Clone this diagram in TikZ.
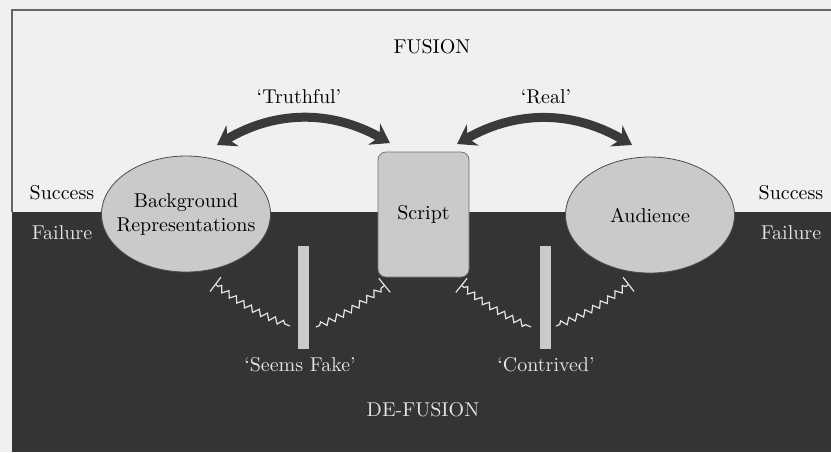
\documentclass[tikz,border=0pt]{standalone}
\usepackage{tikz}
\usetikzlibrary{positioning, arrows.meta, shapes.geometric, decorations.pathmorphing}
\definecolor{pagegray}{RGB}{240,240,240}
\definecolor{darkzone}{RGB}{52,52,52}
\definecolor{bubblegray}{RGB}{202,202,202}
\definecolor{arrowgray}{RGB}{58,58,58}
\definecolor{paletext}{RGB}{228,228,228}

\begin{document}
\begin{tikzpicture}[x=0.5pt, y=-0.5pt, >=Stealth,
    bubble/.style={ellipse, draw=black!70, fill=bubblegray, inner xsep=-14pt, inner ysep=0pt,
      minimum width=84.5pt, minimum height=58pt, align=center},
    scriptbox/.style={rectangle, rounded corners=4pt, draw=black!55, fill=bubblegray,
      minimum width=45.5pt, minimum height=62.5pt},
    bar/.style={fill=bubblegray, minimum width=5.5pt, minimum height=51.5pt, inner sep=0pt},
    bigarrow/.style={{Stealth[length=9pt, width=12pt]}-{Stealth[length=9pt, width=12pt]},
      arrowgray, line width=4.5pt},
    jag/.style={paletext, line width=0.6pt, decorate,
      decoration={zigzag, segment length=4.5pt, amplitude=1.5pt, pre length=2pt, post length=1pt}},
    pale/.style={text=paletext}]
  % page, frame and the dark lower half
  \useasboundingbox[fill=pagegray] (0,0) rectangle (831,452);
  \fill[darkzone] (12,212) rectangle (831,452);
  \draw[black!60, line width=0.6pt] (12,212) -- (12,10) -- (831,10);

  % the three elements
  \node[bubble] (bg) at (186,214) {Background\\Representations};
  \node[scriptbox] (script) at (423.5,214.5) {Script};
  \node[bubble] (aud) at (650,215) {Audience};

  % labels
  \node (fusion) at (432,47) {FUSION};
  \node (truth) at (299,97) {`Truthful'};
  \node (real) at (546,97) {`Real'};
  \node (succL) at (62,193) {Success};
  \node (succR) at (791,193) {Success};
  \node[pale] (failL) at (62,233) {Failure};
  \node[pale] (failR) at (791,233) {Failure};
  \node[pale] (fake) at (300,365) {`Seems Fake'};
  \node[pale] (contr) at (546,365) {`Contrived'};
  \node[pale] (defusion) at (423,410) {DE-FUSION};

  % barriers
  \node[bar] (barL) at (303.5,297.5) {};
  \node[bar] (barR) at (545,297.5) {};

  % fusion arrows
  \coordinate (bgtip) at (217,145);
  \coordinate (scL) at (390,143);
  \coordinate (scR) at (457,144);
  \coordinate (audtip) at (632,145);
  \draw[bigarrow] (bgtip) to[bend left=30] (scL);
  \draw[bigarrow] (scR) to[bend left=30] (audtip);

  % broken links
  \coordinate (zbg) at (215,284);
  \coordinate (zbgb) at (290,326);
  \coordinate (zscb) at (316,327);
  \coordinate (zsc) at (385,285);
  \coordinate (zsc2) at (461,285);
  \coordinate (zaudb) at (531,327);
  \coordinate (zaudc) at (556,326);
  \coordinate (zaud) at (629,284);
  \draw[jag, {Bar[width=9pt]}-] (zbg) to[bend right=8] (zbgb);
  \draw[jag, -{Bar[width=9pt]}] (zscb) to[bend right=8] (zsc);
  \draw[jag, {Bar[width=9pt]}-] (zsc2) to[bend right=8] (zaudb);
  \draw[jag, -{Bar[width=9pt]}] (zaudc) to[bend right=8] (zaud);
\end{tikzpicture}
\end{document}
